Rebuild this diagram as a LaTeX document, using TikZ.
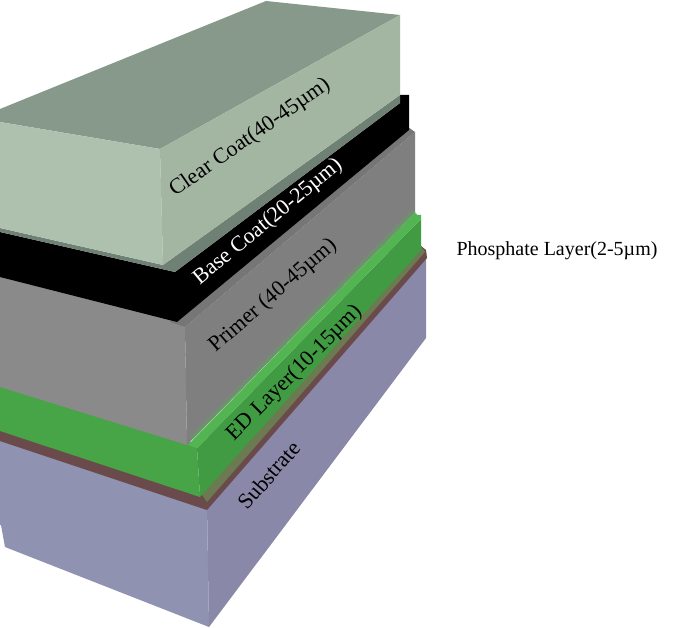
\documentclass[tikz,border=0pt]{standalone}
\usepackage{fontspec}
\usepackage{xcolor}
\setmainfont{Liberation Serif}
\definecolor{clearleft}{HTML}{ADC1AE}
\definecolor{clearright}{HTML}{A3B6A2}
\definecolor{cleartop}{HTML}{87998A}
\definecolor{clearfoot}{HTML}{6F8074}
\definecolor{primerleft}{HTML}{8A8A8A}
\definecolor{primerright}{HTML}{7F7F7F}
\definecolor{primertop}{HTML}{767676}
\definecolor{edleft}{HTML}{47A547}
\definecolor{edright}{HTML}{409B43}
\definecolor{edtop}{HTML}{52B552}
\definecolor{edfoot}{HTML}{6B7A50}
\definecolor{brownlayer}{HTML}{6A4A4B}
\definecolor{subleft}{HTML}{8F92B1}
\definecolor{subright}{HTML}{8988A8}
\tikzset{
  face/.style={fill=#1,draw=none},
  glow/.style={edtop,opacity=0.2,line width=#1},
  layertext/.style={font=\fontsize{22}{22}\selectfont,inner sep=0pt,text=#1},
  layertext/.default=black
}

\begin{document}
\begin{tikzpicture}[x=1pt,y=-1pt]
\useasboundingbox (0,0) rectangle (685,628);

\fill[white] (0,0) rectangle (685,628);

% substrate
\fill[face=subleft] (0,436) -- (207,505) -- (209,627) -- (5,547) -- (1,525) -- (0,525) -- cycle;
\fill[face=subright] (207,505) -- (426,252) -- (426,338) -- (209,627) -- cycle;

% phosphate
\fill[face=brownlayer] (0,423) -- (200,492) -- (421,246) -- (426,250) -- (427,258) -- (207,510) -- (0,441) -- cycle;
\fill[face=edfoot] (200,492) -- (421,246) -- (425,252) -- (207,502) -- cycle;

% ed layer
\fill[face=edleft] (0,380) -- (188,440) -- (197,448) -- (200,497) -- (0,431) -- cycle;
\fill[face=edright] (197,448) -- (421,219) -- (421,250) -- (200,497) -- cycle;

% primer
\fill[face=primerleft] (0,270) -- (185,322) -- (187,445) -- (0,387) -- cycle;
\fill[face=primerright] (185,327) -- (415,132) -- (415,213) -- (187,445) -- cycle;
\fill[face=primertop] (170,322) -- (405,125) -- (415,132) -- (185,327) -- cycle;
\draw[glow=9pt] (193,439) -- (415,212);
\draw[glow=5pt] (193,439) -- (415,212);

% ed strip goes over the primer edge
\fill[face=edtop] (188,445) -- (415,213) -- (417,215) -- (421,215) -- (421,219) -- (197,448) -- cycle;

% base coat
\fill[black] (0,232) -- (175,272) -- (400,103) -- (400,95) -- (409,95) -- (409,130) -- (177,322) -- (0,277) -- cycle;
\fill[face=clearfoot] (0,228) -- (163,265) -- (400,95) -- (400,103) -- (175,272) -- (0,232) -- cycle;

% clear coat
\fill[face=cleartop] (0,109) -- (266,1) -- (400,15) -- (160,149) -- (0,122) -- cycle;
\fill[face=clearleft] (0,122) -- (160,149) -- (163,265) -- (0,228) -- cycle;
\fill[face=clearright] (160,149) -- (400,15) -- (400,95) -- (163,265) -- cycle;

\node[layertext,rotate=35] (clearcoat) at (250,138) {Clear Coat(40-45µm)};
\node[layertext=white,rotate=39.5] (basecoat) at (268,222) {Base Coat(20-25µm)};
\node[layertext,rotate=41] (primer) at (273,296) {Primer (40-45µm)};
\node[layertext,rotate=45] (edlayer) at (295,373) {ED Layer(10-15µm)};
\node[layertext,rotate=49] (substrate) at (269,475) {Substrate};
\node[layertext,font=\fontsize{20}{20}\selectfont] (phosphate) at (557,251) {Phosphate Layer(2-5µm)};

\end{tikzpicture}
\end{document}
